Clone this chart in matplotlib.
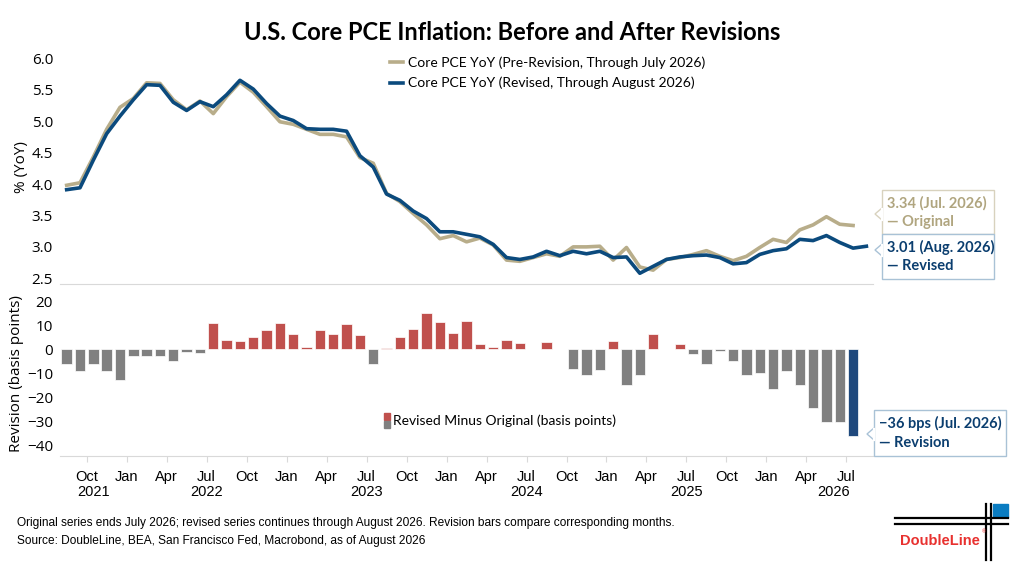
import matplotlib
matplotlib.use('Agg')
import matplotlib.pyplot as plt
from matplotlib.patches import Rectangle, Polygon
from matplotlib.lines import Line2D

plt.rcParams['font.family'] = ['Open Sans', 'DejaVu Sans']

# Aug 2021 .. Jul 2026 (original), Aug 2021 .. Aug 2026 (revised)
original = [3.98, 4.02, 4.43, 4.87, 5.22, 5.36, 5.61, 5.60, 5.34, 5.18,
            5.32, 5.12, 5.39, 5.62, 5.46, 5.23, 4.99, 4.95, 4.87, 4.79,
            4.79, 4.75, 4.42, 4.33, 3.85, 3.72, 3.53, 3.35, 3.13, 3.18,
            3.08, 3.14, 3.03, 2.79, 2.77, 2.83, 2.89, 2.85, 3.00, 3.00,
            3.01, 2.79, 2.99, 2.68, 2.63, 2.80, 2.83, 2.88, 2.94, 2.85,
            2.78, 2.85, 2.99, 3.12, 3.07, 3.27, 3.35, 3.48, 3.36, 3.34]
revised = [3.91, 3.94, 4.38, 4.80, 5.08, 5.34, 5.58, 5.57, 5.30, 5.17,
           5.31, 5.23, 5.42, 5.65, 5.51, 5.28, 5.08, 5.01, 4.88, 4.87,
           4.87, 4.84, 4.45, 4.27, 3.84, 3.74, 3.57, 3.45, 3.24, 3.24,
           3.20, 3.16, 3.04, 2.83, 2.80, 2.84, 2.93, 2.86, 2.93, 2.89,
           2.93, 2.83, 2.84, 2.58, 2.69, 2.80, 2.84, 2.86, 2.87, 2.83,
           2.73, 2.75, 2.88, 2.94, 2.97, 3.12, 3.10, 3.18, 3.07, 2.98,
           3.01]
# revised minus original, basis points, Aug 2021 .. Jul 2026
revision_bps = [-6, -9, -6, -9, -13, -3, -3, -3, -5, -1,
                -1.5, 11, 4, 3.5, 5, 8, 11, 6.5, 1, 8,
                6.5, 10.5, 6, -6, 0.4, 5, 8.6, 15, 11.5, 6.7,
                12, 2.4, 1, 4, 2.8, 0.3, 3, 0.2, -8.2, -10.7,
                -8.5, 3.3, -14.7, -10.7, 6.4, 0.3, 2, -2, -6, -0.7,
                -5, -10.8, -9.9, -16.7, -8.9, -15, -24.7, -30.4, -30.4, -36]

month_labels = ['Oct', 'Jan', 'Apr', 'Jul'] * 5
year_labels = ['2021', '2022', '2023', '2024', '2025', '2026']
year_pos = [2, 10.5, 22.5, 34.5, 46.5, 57.5]

TAN = '#B8AD8A'
BLUE = '#0B4A7D'
RED = '#C0504D'
GRAY = '#808080'
LASTBAR = '#1F497D'
NARROW = ['Liberation Sans', 'DejaVu Sans']
LATO = ['Lato', 'DejaVu Sans']

fig = plt.figure(figsize=(10.24, 5.76), dpi=100)
ax1 = fig.add_axes([0.0586, 0.507, 0.794, 0.406])
ax2 = fig.add_axes([0.0586, 0.208, 0.794, 0.288])

xo = list(range(len(original)))
xr = list(range(len(revised)))
ax1.plot(xo, original, color=TAN, lw=2.6, label='Core PCE YoY (Pre-Revision, Through July 2026)', zorder=2)
ax1.plot(xr, revised, color=BLUE, lw=2.6, label='Core PCE YoY (Revised, Through August 2026)', zorder=3)
ax1.set_xlim(-0.5, 60.5)
ax1.set_ylim(2.41, 6.13)
ax1.set_yticks([2.5, 3.0, 3.5, 4.0, 4.5, 5.0, 5.5, 6.0])
ax1.set_yticklabels(['2.5', '3.0', '3.5', '4.0', '4.5', '5.0', '5.5', '6.0'])
ax1.tick_params(axis='y', length=0, labelsize=11, pad=5)
ax1.set_xticks([])
for s in ['top', 'right', 'left']:
    ax1.spines[s].set_visible(False)
ax1.spines['bottom'].set_color('#D9D9D9')
ax1.set_ylabel('% (YoY)', fontsize=11)
ax1.yaxis.set_label_coords(-0.038, 0.5)
ax1.legend(loc='upper left', bbox_to_anchor=(0.39, 1.025), frameon=False,
           prop={'family': LATO, 'size': 10},
           handlelength=1.0, handletextpad=0.3, labelspacing=0.55)

colors = []
for i, v in enumerate(revision_bps):
    if i == len(revision_bps) - 1:
        colors.append(LASTBAR)
    elif v >= 0:
        colors.append(RED)
    else:
        colors.append(GRAY)
ax2.bar(range(len(revision_bps)), revision_bps, width=0.78, color=colors,
        edgecolor='white', linewidth=0.5)
ax2.set_xlim(-0.5, 60.5)
ax2.set_ylim(-44.6, 24.6)
ax2.set_yticks([-40, -30, -20, -10, 0, 10, 20])
ax2.tick_params(axis='y', length=0, labelsize=11, pad=5)
qt = [1.5 + 3 * k for k in range(20)]
ax2.set_xticks(qt)
ax2.set_xticklabels(month_labels, fontsize=10.5, family=NARROW)
ax2.tick_params(axis='x', length=4, color='#D9D9D9', pad=6)
for s in ['top', 'right', 'left']:
    ax2.spines[s].set_visible(False)
ax2.spines['bottom'].set_color('#D9D9D9')
ax2.set_ylabel('Revision (basis points)', fontsize=11)
ax2.yaxis.set_label_coords(-0.044, 0.5)
for lab, p in zip(year_labels, year_pos):
    ax2.text(p, -0.217, lab, transform=ax2.get_xaxis_transform(), ha='center', va='center',
             fontsize=10.5, family=NARROW)

# bar legend
fig.patches.append(Rectangle((384 / 1024, 1 - 420 / 576), 6 / 1024, 7 / 576,
                             transform=fig.transFigure, color=RED))
fig.patches.append(Rectangle((384 / 1024, 1 - 428 / 576), 6 / 1024, 7 / 576,
                             transform=fig.transFigure, color=GRAY))
fig.text(393 / 1024, 1 - 421 / 576, 'Revised Minus Original (basis points)', fontsize=10,
         va='center', ha='left', family=LATO)

fig.text(0.5, 1 - 33 / 576, 'U.S. Core PCE Inflation: Before and After Revisions',
         ha='center', va='center', fontsize=17, fontweight='bold', family=LATO)


def callout(x0, y0, x1, y1, ny, edge, lines, color):
    # box in pixel coords (top-left origin) with a small notch on the left edge
    W, H = 1024.0, 576.0
    fig.patches.append(Rectangle((x0 / W, 1 - y1 / H), (x1 - x0) / W, (y1 - y0) / H,
                                 transform=fig.transFigure, facecolor='white',
                                 edgecolor=edge, lw=1.0, zorder=5))
    notch = [(x0 / W, 1 - (ny - 6) / H), ((x0 - 7) / W, 1 - ny / H), (x0 / W, 1 - (ny + 6) / H)]
    fig.patches.append(Polygon(notch, closed=False, transform=fig.transFigure, facecolor='white',
                               edgecolor=edge, lw=1.0, zorder=6))
    fig.lines.append(Line2D([x0 / W, x0 / W], [1 - (ny - 5.5) / H, 1 - (ny + 5.5) / H],
                            transform=fig.transFigure, color='white', lw=1.6, zorder=7))
    fig.text((x0 + 5) / W, 1 - (y0 + (y1 - y0) * 0.3) / H, lines[0], color=color, fontsize=10.5,
             fontweight='bold', va='center', ha='left', zorder=8, family=LATO)
    fig.text((x0 + 5) / W, 1 - (y0 + (y1 - y0) * 0.72) / H, lines[1], color=color, fontsize=10.5,
             fontweight='bold', va='center', ha='left', zorder=8, family=LATO)


callout(882, 190, 994, 234, 214, '#D8D2BE', ['3.34 (Jul. 2026)', '\u2014 Original'], '#B0A57F')
callout(882, 234, 994, 279, 250, '#A9C2D6', ['3.01 (Aug. 2026)', '\u2014 Revised'], '#0B3E6F')
callout(874, 410, 1006, 456, 434, '#A9C2D6', ['\u221236 bps (Jul. 2026)', '\u2014 Revision'], '#0B3E6F')

fig.text(17 / 1024, 1 - 523 / 576,
         'Original series ends July 2026; revised series continues through August 2026. '
         'Revision bars compare corresponding months.', fontsize=8.6, family=NARROW, va='center')
fig.text(17 / 1024, 1 - 541 / 576,
         'Source: DoubleLine, BEA, San Francisco Fed, Macrobond, as of August 2026',
         fontsize=8.6, family=NARROW, va='center')

# logo
W, H = 1024.0, 576.0
for yy in [518, 524]:
    fig.lines.append(Line2D([895 / W, 1008 / W], [1 - yy / H, 1 - yy / H],
                            transform=fig.transFigure, color='black', lw=1.6))
for xx in [986, 991]:
    fig.lines.append(Line2D([xx / W, xx / W], [1 - 504 / H, 1 - 560 / H],
                            transform=fig.transFigure, color='black', lw=1.6))
fig.patches.append(Rectangle((992.5 / W, 1 - 517 / H), 15.5 / W, 13 / H,
                             transform=fig.transFigure, color='#0A7CC1'))
fig.text(940 / W, 1 - 541 / H, 'DoubleLine', color='#E8312F', fontsize=10.5, fontweight='bold',
         ha='center', va='center', family=NARROW)
fig.text(983.5 / W, 1 - 532 / H, '\u00ae', color='#E8312F', fontsize=3.5, ha='center', va='center')

fig.savefig('out.png', dpi=100)
